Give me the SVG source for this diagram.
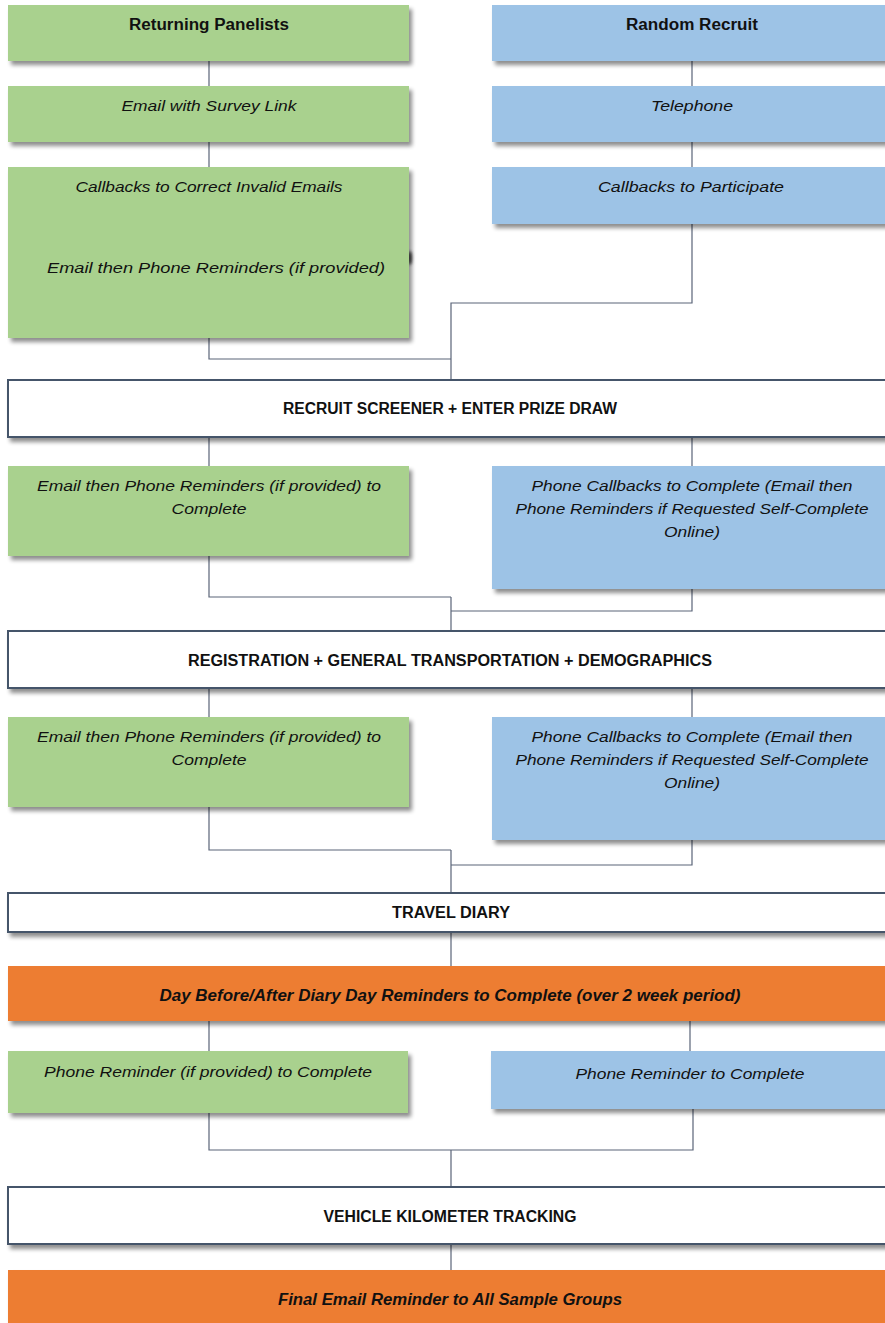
<svg xmlns="http://www.w3.org/2000/svg" width="885" height="1323" viewBox="0 0 885 1323">
<defs>
<filter id="sh" x="-5%" y="-20%" width="115%" height="150%">
<feGaussianBlur in="SourceAlpha" stdDeviation="2"/>
<feOffset dx="3" dy="4" result="b"/>
<feComponentTransfer><feFuncA type="linear" slope="0.45"/></feComponentTransfer>
<feMerge><feMergeNode/><feMergeNode in="SourceGraphic"/></feMerge>
</filter>
<filter id="bl" x="-100%" y="-100%" width="300%" height="300%"><feGaussianBlur stdDeviation="1.5"/></filter>
</defs>
<style>
.g{fill:#A9D18E}
.b{fill:#9DC3E6}
.o{fill:#ED7D31}
.w{fill:#FFFFFF;stroke:#44546A;stroke-width:2}
.t{font-family:"Liberation Sans",Arial,sans-serif;font-size:15.5px;fill:#111;text-anchor:middle}
.i{font-style:italic}
.bd{font-weight:bold;font-size:16px}
.c{fill:none;stroke:#5A6478;stroke-width:1.2}
</style>
<g id="connectors">
<path class="c" d="M209 61V86M692 61V86M209 142V167M692 142V167"/>
<path class="c" d="M209 338V359H451M692 224V303H451V380"/>
<path class="c" d="M209 437V466M692 437V466"/>
<path class="c" d="M209 556V597H451M692 589V611H451M451 597V631"/>
<path class="c" d="M209 688V717M692 688V717"/>
<path class="c" d="M209 807V850H451M692 840V865H451M451 850V893"/>
<path class="c" d="M451 932V966"/>
<path class="c" d="M209 1021V1051M690 1021V1051"/>
<path class="c" d="M209 1113V1150H693V1109M451 1150V1187"/>
<path class="c" d="M451 1244V1270"/>
</g>
<g id="returning-panelists"><rect class="g" x="8" y="5" width="401" height="56" filter="url(#sh)"/><text class="t bd" x="209" y="30" textLength="160" lengthAdjust="spacingAndGlyphs">Returning Panelists</text></g>
<g id="random-recruit"><rect class="b" x="492" y="5" width="400" height="56" filter="url(#sh)"/><text class="t bd" x="692" y="30" textLength="132" lengthAdjust="spacingAndGlyphs">Random Recruit</text></g>
<g id="email-survey-link"><rect class="g" x="8" y="86" width="401" height="56" filter="url(#sh)"/><text class="t i" x="209" y="111" textLength="175" lengthAdjust="spacingAndGlyphs">Email with Survey Link</text></g>
<g id="telephone"><rect class="b" x="492" y="86" width="400" height="56" filter="url(#sh)"/><text class="t i" x="692" y="111" textLength="82" lengthAdjust="spacingAndGlyphs">Telephone</text></g>
<g id="callbacks-correct"><ellipse cx="410" cy="258" rx="2" ry="7" fill="#333" filter="url(#bl)"/><rect class="g" x="8" y="167" width="401" height="171" filter="url(#sh)"/><text class="t i" x="209" y="192" textLength="267" lengthAdjust="spacingAndGlyphs">Callbacks to Correct Invalid Emails</text><text class="t i" x="216" y="273" textLength="338" lengthAdjust="spacingAndGlyphs">Email then Phone Reminders (if provided)</text></g>
<g id="callbacks-participate"><rect class="b" x="492" y="167" width="400" height="57" filter="url(#sh)"/><text class="t i" x="691" y="192" textLength="186" lengthAdjust="spacingAndGlyphs">Callbacks to Participate</text></g>
<g id="recruit-screener"><rect class="w" x="8" y="380" width="886" height="57" filter="url(#sh)"/><text class="t bd" x="450" y="414" textLength="334" lengthAdjust="spacingAndGlyphs">RECRUIT SCREENER + ENTER PRIZE DRAW</text></g>
<g id="green-reminders-1"><rect class="g" x="8" y="466" width="401" height="90" filter="url(#sh)"/><text class="t i" x="209" y="491" textLength="344" lengthAdjust="spacingAndGlyphs">Email then Phone Reminders (if provided) to</text><text class="t i" x="209" y="514" textLength="75" lengthAdjust="spacingAndGlyphs">Complete</text></g>
<g id="blue-callbacks-1"><rect class="b" x="492" y="466" width="400" height="123" filter="url(#sh)"/><text class="t i" x="692" y="491" textLength="321" lengthAdjust="spacingAndGlyphs">Phone Callbacks to Complete (Email then</text><text class="t i" x="692" y="514" textLength="353" lengthAdjust="spacingAndGlyphs">Phone Reminders if Requested Self-Complete</text><text class="t i" x="692" y="537" textLength="56" lengthAdjust="spacingAndGlyphs">Online)</text></g>
<g id="registration"><rect class="w" x="8" y="631" width="886" height="57" filter="url(#sh)"/><text class="t bd" x="450" y="666" textLength="524" lengthAdjust="spacingAndGlyphs">REGISTRATION + GENERAL TRANSPORTATION + DEMOGRAPHICS</text></g>
<g id="green-reminders-2"><rect class="g" x="8" y="717" width="401" height="90" filter="url(#sh)"/><text class="t i" x="209" y="742" textLength="344" lengthAdjust="spacingAndGlyphs">Email then Phone Reminders (if provided) to</text><text class="t i" x="209" y="765" textLength="75" lengthAdjust="spacingAndGlyphs">Complete</text></g>
<g id="blue-callbacks-2"><rect class="b" x="492" y="717" width="400" height="123" filter="url(#sh)"/><text class="t i" x="692" y="742" textLength="321" lengthAdjust="spacingAndGlyphs">Phone Callbacks to Complete (Email then</text><text class="t i" x="692" y="765" textLength="353" lengthAdjust="spacingAndGlyphs">Phone Reminders if Requested Self-Complete</text><text class="t i" x="692" y="788" textLength="56" lengthAdjust="spacingAndGlyphs">Online)</text></g>
<g id="travel-diary"><rect class="w" x="8" y="893" width="886" height="39" filter="url(#sh)"/><text class="t bd" x="451" y="918" textLength="118" lengthAdjust="spacingAndGlyphs">TRAVEL DIARY</text></g>
<g id="day-before-after"><rect class="o" x="8" y="966" width="886" height="55" filter="url(#sh)"/><text class="t bd i" x="450" y="1001" textLength="581" lengthAdjust="spacingAndGlyphs">Day Before/After Diary Day Reminders to Complete (over 2 week period)</text></g>
<g id="phone-reminder-provided"><rect class="g" x="8" y="1051" width="400" height="62" filter="url(#sh)"/><text class="t i" x="208" y="1077" textLength="328" lengthAdjust="spacingAndGlyphs">Phone Reminder (if provided) to Complete</text></g>
<g id="phone-reminder"><rect class="b" x="491" y="1051" width="400" height="58" filter="url(#sh)"/><text class="t i" x="690" y="1079" textLength="229" lengthAdjust="spacingAndGlyphs">Phone Reminder to Complete</text></g>
<g id="vehicle-km"><rect class="w" x="8" y="1187" width="886" height="57" filter="url(#sh)"/><text class="t bd" x="450" y="1222" textLength="253" lengthAdjust="spacingAndGlyphs">VEHICLE KILOMETER TRACKING</text></g>
<g id="final-email"><rect class="o" x="8" y="1270" width="886" height="60" filter="url(#sh)"/><text class="t bd i" x="450" y="1305" textLength="344" lengthAdjust="spacingAndGlyphs">Final Email Reminder to All Sample Groups</text></g>
</svg>
